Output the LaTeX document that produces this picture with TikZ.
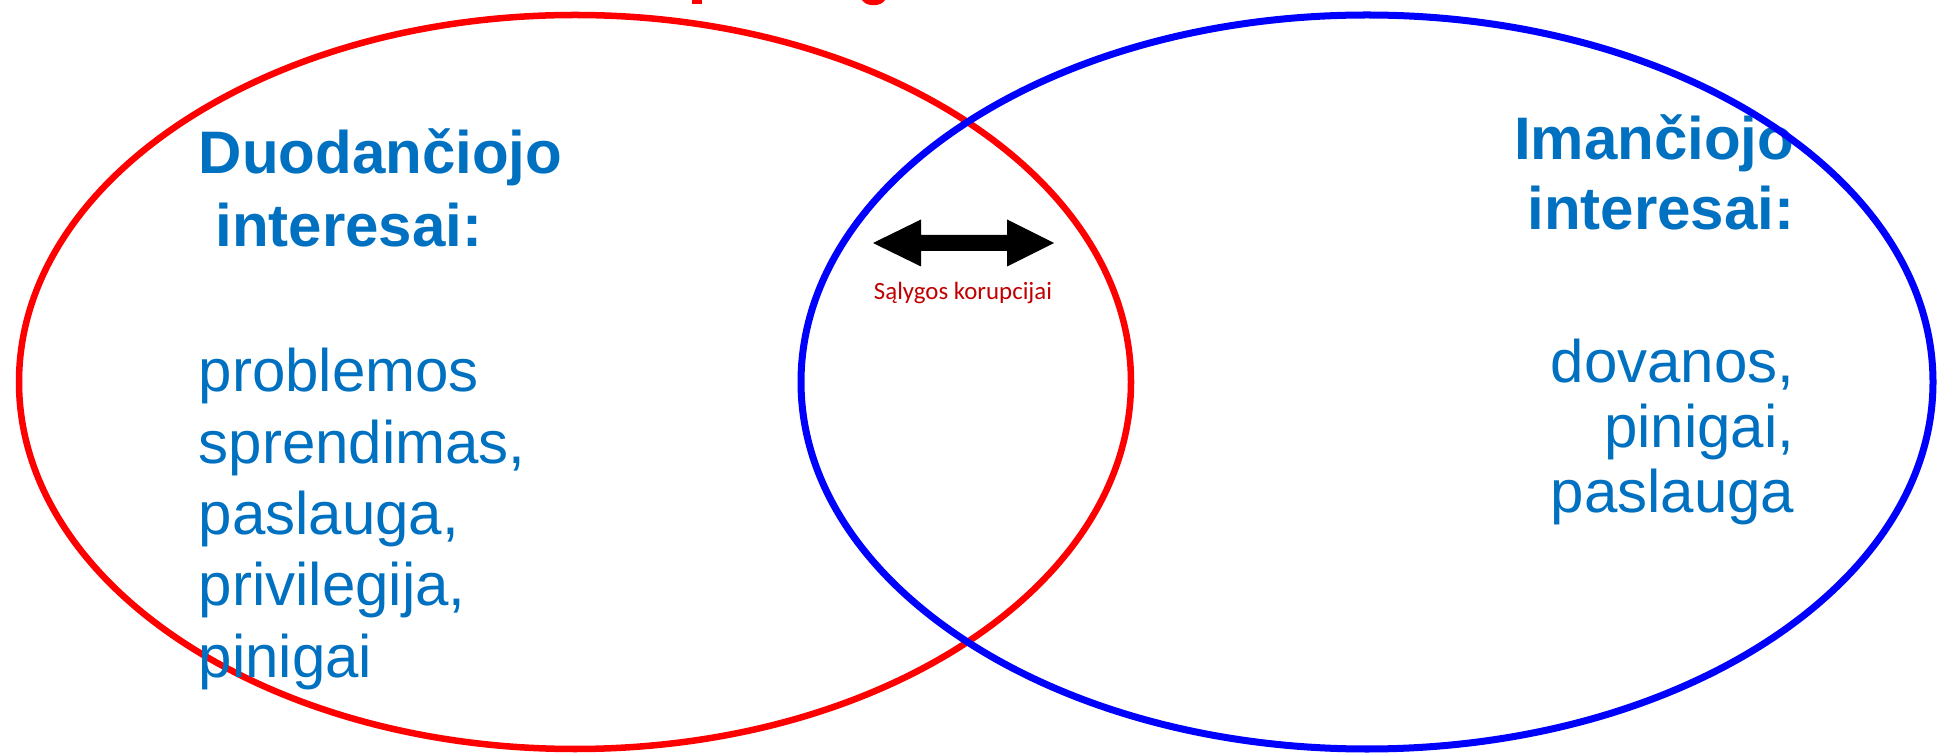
\documentclass[tikz,border=0pt]{standalone}
\usepackage{fontspec}
\setmainfont{Liberation Sans}
\newfontfamily\smallfont{Carlito}
\usepackage{tikz}
\definecolor{txtblue}{HTML}{0070C0}
\definecolor{lblred}{HTML}{C00000}

\begin{document}
\begin{tikzpicture}[x=0.01cm, y=-0.01cm,
		item/.style={anchor=base west, inner sep=0, text=txtblue, font=\fontsize{17.07}{20}\selectfont},
		head/.style={item, font=\fontsize{17.07}{20}\selectfont\bfseries}]
		\useasboundingbox (0,0) rectangle (1939,755);
		\fill[red] (692,0) rectangle (702,4);
		\fill[red] (862,0) .. controls (866,7) and (881,7) .. (885,0) -- cycle;

		\draw[red, line width=0.065cm] (575,382) ellipse [x radius=556, y radius=367];
		\node[head] (giver) at (198,174) {Duodančiojo};
		\node[head] (giverb) at (198,247) {\ interesai:};
		\foreach \t [count=\i] in {problemos, {sprendimas,}, {paslauga,}, {privilegija,}, pinigai} {
				\node[item] (g\i) at (198, {320.7+71.3*\i}) {\t};
			}

		\node[head, anchor=base east] (taker) at (1795,160) {Imančiojo};
		\node[head, anchor=base east] (takerb) at (1795,230) {interesai:};
		\foreach \t [count=\i] in {{dovanos,}, {pinigai,}, paslauga} {
				\node[item, anchor=base east] (t\i) at (1795, {318+65*\i}) {\t};
			}
		\draw[blue, line width=0.07cm] (1367,382) ellipse [x radius=566, y radius=367];

		\fill[black] (873,243) -- (921,219.5) -- (921,235) -- (1007,235) -- (1007,219.5) -- (1054,243)
			-- (1007,266.5) -- (1007,251) -- (921,251) -- (921,266.5) -- cycle;
		\node[anchor=base, inner sep=0, text=lblred, font=\smallfont\fontsize{7.07}{8.5}\selectfont] (cond) at (963,300) {Sąlygos korupcijai};
	\end{tikzpicture}
\end{document}
